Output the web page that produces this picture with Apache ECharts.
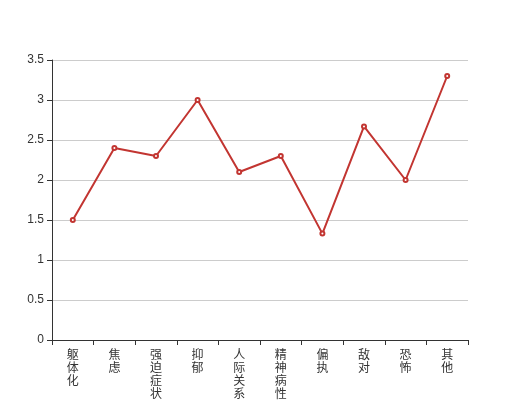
<!DOCTYPE html>
<html><head><meta charset="utf-8">
<script src="https://cdn.jsdelivr.net/npm/echarts@6/dist/echarts.min.js"></script>
<style>html,body{margin:0;padding:0;background:#fff}#c{width:520px;height:400px}</style>
</head><body><div id="c"></div>
<script>
var categories = ['躯体化','焦虑','强迫症状','抑郁','人际关系敏感','精神病性','偏执','敌对','恐怖','其他'];
var values = [1.5, 2.4, 2.3, 3.0, 2.1, 2.3, 1.33, 2.67, 2.0, 3.3];
var yTicks = {min: 0, max: 3.5, interval: 0.5};

var chart = echarts.init(document.getElementById('c'), null, {renderer: 'canvas'});
chart.setOption({
  animation: false,
  grid: {left: 52, right: 52, top: 60, bottom: 60, containLabel: false, outerBoundsMode: 'none'},
  xAxis: {
    type: 'category',
    data: categories,
    boundaryGap: true,
    axisLine: {lineStyle: {color: '#333'}},
    axisTick: {show: true, alignWithLabel: false, lineStyle: {color: '#333'}},
    axisLabel: {
      color: '#333', fontSize: 12, interval: 0, lineHeight: 13,
      fontFamily: 'Noto Sans CJK SC',
      formatter: function (v) { return v.split('').join('\n'); }
    },
    splitLine: {show: false}
  },
  yAxis: {
    type: 'value',
    min: yTicks.min, max: yTicks.max, interval: yTicks.interval,
    axisLine: {show: true, lineStyle: {color: '#333'}},
    axisTick: {show: true, lineStyle: {color: '#333'}},
    axisLabel: {color: '#333', fontSize: 12},
    splitLine: {lineStyle: {color: '#ccc'}}
  },
  series: [{
    type: 'line',
    data: values,
    symbol: 'emptyCircle',
    symbolSize: 4,
    itemStyle: {color: '#c23531'},
    lineStyle: {color: '#c23531', width: 2}
  }]
});
</script></body></html>
